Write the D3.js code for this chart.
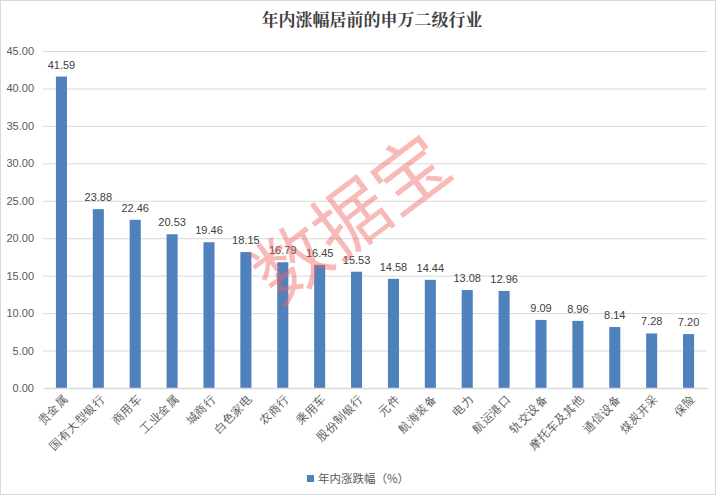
<!DOCTYPE html>
<html><head><meta charset="utf-8">
<script src="https://cdn.jsdelivr.net/npm/d3@7"></script>
<style>
html,body{margin:0;padding:0;background:#fff;}
svg{display:block;font-family:"Noto Sans CJK SC","Microsoft YaHei",sans-serif;}
</style></head>
<body>
<svg id="c" width="716" height="495"></svg>
<script>
const categories = ["贵金属","国有大型银行","商用车","工业金属","城商行","白色家电","农商行","乘用车","股份制银行","元件","航海装备","电力","航运港口","轨交设备","摩托车及其他","通信设备","煤炭开采","保险"];
const values = [41.59,23.88,22.46,20.53,19.46,18.15,16.79,16.45,15.53,14.58,14.44,13.08,12.96,9.09,8.96,8.14,7.28,7.20];
const yTicks = [0,5,10,15,20,25,30,35,40,45];
const title = "年内涨幅居前的申万二级行业";
const seriesName = "年内涨跌幅（%）";
const watermark = "数据宝";

const svg = d3.select("#c");
const W = 716, H = 495;
const m = {left: 43, right: 9, top: 51, bottom: 107};
const x = d3.scaleBand().domain(categories).range([m.left, W - m.right]).paddingInner(0.7).paddingOuter(0.35);
const y = d3.scaleLinear().domain([0, 45]).range([H - m.bottom, m.top]);

svg.append("rect").attr("x",0.5).attr("y",0.5).attr("width",W-1).attr("height",H-1).attr("fill","#fff").attr("stroke","#d9d9d9");

// gridlines
svg.append("g").selectAll("line").data(yTicks.filter(d=>d>0)).join("line")
  .attr("x1", m.left).attr("x2", W - m.right)
  .attr("y1", d=>y(d)+0.5).attr("y2", d=>y(d)+0.5)
  .attr("stroke", "#d9d9d9").attr("stroke-width", 1);

// y axis labels
const yAxis = d3.axisLeft(y).tickValues(yTicks).tickFormat(d3.format(".2f")).tickSize(0).tickPadding(9);
const gy = svg.append("g").attr("transform", `translate(${m.left},0)`).call(yAxis);
gy.select(".domain").remove();
gy.selectAll("text").attr("fill","#595959").style("font-size","11px").style("font-family","Liberation Sans, Arial, sans-serif");

// bars
svg.append("g").selectAll("rect").data(values).join("rect")
  .attr("x", (d,i)=>x(categories[i]))
  .attr("width", x.bandwidth())
  .attr("y", d=>y(d))
  .attr("height", d=>y(0)-y(d))
  .attr("fill", "#4f81bd");

// data labels
svg.append("g").selectAll("text").data(values).join("text")
  .attr("x", (d,i)=>x(categories[i]) + x.bandwidth()/2)
  .attr("y", d=>y(d) - 8)
  .attr("text-anchor","middle")
  .attr("fill","#404040")
  .style("font-size","11px")
  .style("font-family","Liberation Sans, Arial, sans-serif")
  .text(d=>d.toFixed(2));

// x axis
const xAxis = d3.axisBottom(x).tickSize(0).tickPadding(0);
const gx = svg.append("g").attr("transform", `translate(0,${y(0)})`).call(xAxis);
gx.select(".domain").attr("stroke","#d9d9d9").attr("stroke-width",1.5);
gx.selectAll("text")
  .attr("fill","#595959")
  .style("font-size","11.5px")
  .attr("text-anchor","end")
  .attr("dy", null)
  .attr("transform","translate(7,12) rotate(-45)");

// legend
const lg = svg.append("g").attr("transform","translate(307,479)");
lg.append("rect").attr("x",0).attr("y",-4).attr("width",7).attr("height",7).attr("fill","#4f81bd");
lg.append("text").attr("x",11).attr("y",4).attr("fill","#595959").style("font-size","11.5px").text(seriesName);

// title
svg.append("text").attr("x",372).attr("y",26).attr("text-anchor","middle")
  .attr("fill","#404040").style("font-size","17px").style("font-weight","bold")
  .style("font-family","'Noto Serif CJK SC','Noto Sans CJK SC',serif").text(title);

// watermark
svg.append("text").attr("transform","translate(355,224) rotate(-37)")
  .attr("text-anchor","middle").attr("dominant-baseline","middle")
  .attr("fill","rgba(240,100,100,0.45)").style("font-size","74px").style("font-weight","normal")
  .text(watermark);
</script>
</body></html>
